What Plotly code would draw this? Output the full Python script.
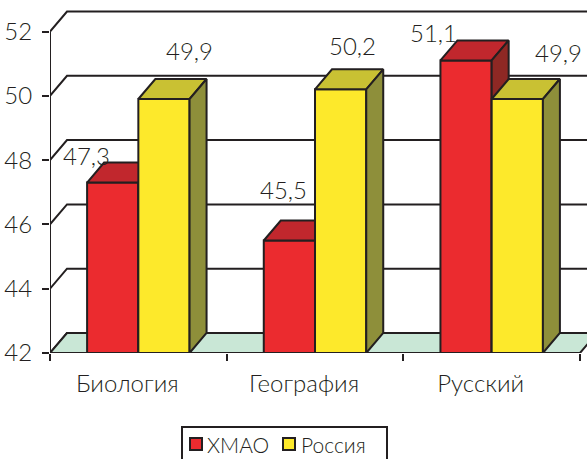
import plotly.graph_objects as go

# ---- data ----
categories = ["Биология", "География", "Русский"]
hmao = [47.3, 45.5, 51.1]
russia = [49.9, 50.2, 49.9]
series_names = ["ХМАО", "Россия"]
y_ticks = [42, 44, 46, 48, 50, 52]

# ---- style / geometry ----
W, H = 587, 459
ML, MB = 50, 106
PW, PH = W - ML, H - MB
X_PX = 176.67          # pixels per category
Y_PX = 32.15           # pixels per value unit
DX = 17 / X_PX         # depth offset (x, data units)
DY = 20 / Y_PX         # depth offset (y, data units)
BAR_W = 0.29
Y0 = y_ticks[0]
XMIN = -0.5
XMAX = XMIN + PW / X_PX
YMAX = Y0 + PH / Y_PX
XBACK = len(categories) - 0.5 + DX
INK = "#231F20"
FONT = "Lato"
FW = 300
COLORS = [
    dict(front="#EB2B2F", top="#C1272D", side="#8E2824"),
    dict(front="#FDE92B", top="#C9C133", side="#8E8F3A"),
]
LABEL_SHIFTS = [[(-26, 27), (-6, 51), (-33, 28)],
                [(26, 49), (12, 44), (41, 47)]]
# legend box (pixels from top-left of figure)
LEG_BOX = (182, 427, 387, 475)
LEG_SWATCH = [190, 283]
LEG_TEXT = [205, 299]
LEG_CY = 444


def px(xp):
    return (xp - ML) / PW


def py(yp):
    return (PH - yp) / PH


fig = go.Figure()

# back wall gridlines + left wall diagonals
gx, gy = [], []
for v in y_ticks:
    gx += [XMIN, XMIN + DX, XBACK, None]
    gy += [v, v + DY, v + DY, None]
fig.add_trace(go.Scatter(x=gx, y=gy, mode="lines", line=dict(color=INK, width=2),
                         showlegend=False, hoverinfo="skip"))
# front vertical axis line
fig.add_trace(go.Scatter(x=[XMIN, XMIN], y=[Y0, y_ticks[-1]], mode="lines",
                         line=dict(color=INK, width=2), showlegend=False, hoverinfo="skip"))
# floor
xr = len(categories) - 0.5
fig.add_trace(go.Scatter(x=[XMIN, XMIN + DX, xr + DX, xr, XMIN],
                         y=[Y0, Y0 + DY, Y0 + DY, Y0, Y0],
                         mode="lines", fill="toself", fillcolor="#C9E7D6",
                         line=dict(color=INK, width=2), showlegend=False, hoverinfo="skip"))

# 3D bars
for s, vals in enumerate([hmao, russia]):
    faces = {"front": ([], []), "top": ([], []), "side": ([], [])}
    for i, v in enumerate(vals):
        x0 = i - BAR_W + s * BAR_W
        x1 = x0 + BAR_W
        fx, fy = faces["front"]
        fx += [x0, x0, x1, x1, x0, None]
        fy += [Y0, v, v, Y0, Y0, None]
        tx, ty = faces["top"]
        tx += [x0, x0 + DX, x1 + DX, x1, x0, None]
        ty += [v, v + DY, v + DY, v, v, None]
        sx, sy = faces["side"]
        sx += [x1, x1, x1 + DX, x1 + DX, x1, None]
        sy += [Y0, v, v + DY, Y0 + DY, Y0, None]
    for face in ["front", "top", "side"]:
        fx, fy = faces[face]
        fig.add_trace(go.Scatter(x=fx, y=fy, mode="lines", fill="toself",
                                 fillcolor=COLORS[s][face],
                                 line=dict(color=INK, width=2),
                                 name=series_names[s],
                                 showlegend=False, hoverinfo="skip"))
    # data labels
    for i, v in enumerate(vals):
        xc = i - BAR_W / 2 + s * BAR_W
        dx, dy = LABEL_SHIFTS[s][i]
        fig.add_annotation(x=xc, y=v, text=f"{v:.1f}".replace(".", ","),
                           showarrow=False, xshift=dx, yshift=dy,
                           font=dict(family=FONT, size=24, color=INK, weight=FW))

# legend (drawn manually so it may be cut by the bottom edge as in the original)
shapes = [dict(type="rect", xref="paper", yref="paper",
               x0=px(LEG_BOX[0]), x1=px(LEG_BOX[2]), y0=py(LEG_BOX[1]), y1=py(LEG_BOX[3]),
               line=dict(color=INK, width=2), fillcolor="white", layer="above")]
for s, name in enumerate(series_names):
    sx = LEG_SWATCH[s]
    shapes.append(dict(type="rect", xref="paper", yref="paper",
                       x0=px(sx), x1=px(sx + 12), y0=py(LEG_CY - 6), y1=py(LEG_CY + 6),
                       line=dict(color=INK, width=2), fillcolor=COLORS[s]["front"],
                       layer="above"))
    fig.add_annotation(xref="paper", yref="paper", x=px(LEG_TEXT[s]), y=py(LEG_CY),
                       xanchor="left", yanchor="middle", text=name, showarrow=False,
                       font=dict(family=FONT, size=21, color=INK, weight=FW))

fig.update_layout(
    width=W, height=H,
    margin=dict(l=ML, r=0, t=0, b=MB, autoexpand=False),
    paper_bgcolor="white", plot_bgcolor="white",
    font=dict(family=FONT, color=INK),
    showlegend=False,
    shapes=shapes,
    xaxis=dict(range=[XMIN, XMAX], tickvals=list(range(len(categories))), ticktext=categories,
               ticks="", showline=False, showgrid=False, zeroline=False, automargin=False,
               tickfont=dict(family=FONT, size=24, color=INK, weight=FW),
               ticklabelshift=-11, ticklabelstandoff=14,
               minor=dict(tickmode="array",
                          tickvals=[k - 0.5 for k in range(len(categories) + 1)],
                          ticks="outside", ticklen=7, tickwidth=2, tickcolor=INK,
                          showgrid=False)),
    yaxis=dict(range=[Y0, YMAX], tickvals=y_ticks, ticks="outside", ticklen=7,
               tickwidth=2, tickcolor=INK, showline=False, showgrid=False, zeroline=False,
               automargin=False,
               tickfont=dict(family=FONT, size=24, color=INK, weight=FW), ticklabelstandoff=5),
)

fig.write_html("out.html", config={"displayModeBar": False},
               post_script="document.body.style.margin='0';document.body.style.overflow='hidden';")
